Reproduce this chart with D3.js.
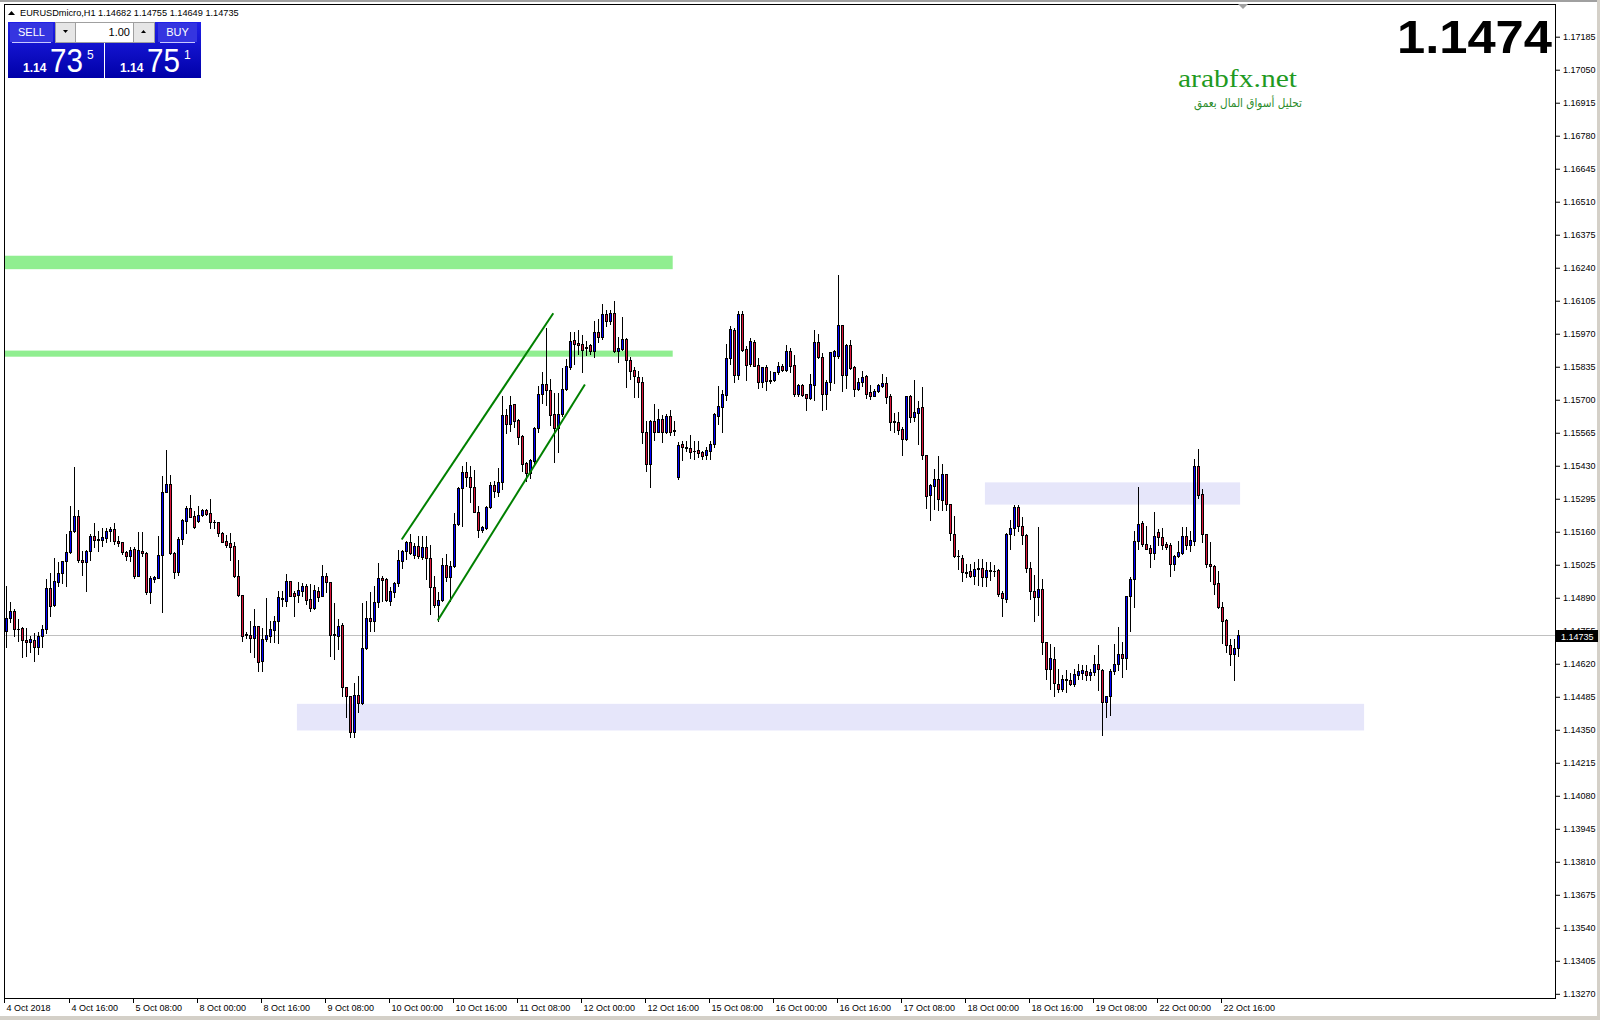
<!DOCTYPE html>
<html><head><meta charset="utf-8">
<script src="https://cdn.jsdelivr.net/npm/d3@7/dist/d3.min.js"></script>
<style>html,body{margin:0;padding:0;background:#fff;overflow:hidden}svg{display:block}</style>
</head><body><svg id="c" width="1600" height="1020"></svg>
<script>
// ---------- DATA (EURUSDmicro, H1) ----------
const symbol = "EURUSDmicro,H1";
const opens = [
1.14753,1.14804,1.14834,1.14760,1.14763,1.14717,1.14706,1.14717,1.14688,1.14730,
1.14760,1.14927,1.14858,1.14954,1.14988,1.15037,1.15074,1.15160,1.15221,1.15044,
1.15035,1.15080,1.15139,1.15125,1.15125,1.15131,1.15160,1.15169,1.15121,1.15115,
1.15074,1.15057,1.15087,1.14978,1.15080,1.15070,1.14912,1.14965,1.14970,1.15063,
1.15319,1.15353,1.15070,1.14995,1.15128,1.15200,1.15255,1.15221,1.15202,1.15225,
1.15247,1.15233,1.15199,1.15198,1.15151,1.15119,1.15112,1.15098,1.14976,1.14899,
1.14736,1.14737,1.14722,1.14771,1.14631,1.14719,1.14733,1.14758,1.14793,1.14883,
1.14876,1.14955,1.14908,1.14899,1.14917,1.14938,1.14883,1.14846,1.14917,1.14897,
1.14976,1.14951,1.14739,1.14733,1.14777,1.14522,1.14485,1.14338,1.14490,1.14458,
1.14681,1.14804,1.14794,1.14872,1.14970,1.14965,1.14876,1.14910,1.14948,1.15040,
1.15078,1.15115,1.15064,1.15098,1.15053,1.15094,1.15049,1.14933,1.14858,1.14879,
1.15022,1.14972,1.15019,1.15188,1.15337,1.15401,1.15381,1.15340,1.15240,1.15165,
1.15173,1.15258,1.15349,1.15322,1.15361,1.15636,1.15598,1.15680,1.15616,1.15549,
1.15438,1.15399,1.15449,1.15582,1.15722,1.15763,1.15738,1.15639,1.15582,1.15639,
1.15742,1.15830,1.15943,1.15930,1.15925,1.15911,1.15922,1.15896,1.15974,1.15956,
1.16049,1.16022,1.16053,1.15899,1.15906,1.15947,1.15862,1.15820,1.15793,1.15770,
1.15568,1.15436,1.15610,1.15568,1.15620,1.15568,1.15633,1.15573,1.15381,1.15517,
1.15504,1.15500,1.15488,1.15492,1.15486,1.15470,1.15488,1.15515,1.15633,1.15670,
1.15719,1.15868,1.15984,1.15801,1.16049,1.15906,1.15845,1.15936,1.15841,1.15770,
1.15831,1.15778,1.15777,1.15811,1.15838,1.15820,1.15896,1.15841,1.15722,1.15759,
1.15722,1.15704,1.15760,1.15933,1.15872,1.15722,1.15772,1.15875,1.15875,1.16004,
1.15801,1.15922,1.15831,1.15740,1.15770,1.15797,1.15729,1.15715,1.15733,1.15756,
1.15767,1.15715,1.15609,1.15606,1.15579,1.15538,1.15712,1.15627,1.15644,1.15668,
1.15470,1.15310,1.15347,1.15374,1.15286,1.15395,1.15271,1.15150,1.15060,1.15050,
1.14994,1.14996,1.14975,1.15005,1.15009,1.14971,1.15001,1.14998,1.15000,1.14908,
1.14881,1.15150,1.15173,1.15259,1.15181,1.15145,1.15009,1.14914,1.14891,1.14925,
1.14709,1.14595,1.14638,1.14536,1.14516,1.14551,1.14553,1.14534,1.14574,1.14581,
1.14588,1.14570,1.14584,1.14618,1.14591,1.14461,1.14486,1.14588,1.14618,1.14659,
1.14641,1.14895,1.14966,1.15120,1.15195,1.15109,1.15092,1.15072,1.15156,1.15136,
1.15106,1.15102,1.15024,1.15058,1.15072,1.15140,1.15105,1.15122,1.15426,1.15313,
1.15150,1.15027,1.15017,1.14948,1.14850,1.14798,1.14696,1.14656,1.14682];
const highs = [
1.14937,1.14869,1.14840,1.14801,1.14770,1.14763,1.14733,1.14744,1.14747,1.14777,
1.14965,1.14989,1.15049,1.15033,1.15040,1.15149,1.15262,1.15421,1.15247,1.15080,
1.15085,1.15147,1.15192,1.15162,1.15172,1.15172,1.15176,1.15192,1.15142,1.15117,
1.15080,1.15094,1.15094,1.15155,1.15155,1.15074,1.14978,1.14978,1.15139,1.15387,
1.15492,1.15390,1.15074,1.15135,1.15210,1.15262,1.15308,1.15244,1.15265,1.15251,
1.15251,1.15292,1.15207,1.15199,1.15155,1.15145,1.15153,1.15115,1.15042,1.14899,
1.14747,1.14794,1.14842,1.14774,1.14763,1.14886,1.14794,1.14812,1.14917,1.14917,
1.14985,1.14958,1.14917,1.14951,1.14947,1.14944,1.14944,1.14940,1.14931,1.15022,
1.14988,1.14951,1.14867,1.14801,1.14785,1.14522,1.14485,1.14538,1.14567,1.14867,
1.14876,1.14910,1.14938,1.15030,1.14976,1.14968,1.14931,1.14954,1.15085,1.15083,
1.15121,1.15149,1.15112,1.15142,1.15142,1.15142,1.15104,1.14978,1.14913,1.15049,
1.15067,1.15040,1.15235,1.15340,1.15428,1.15445,1.15428,1.15412,1.15262,1.15183,
1.15262,1.15360,1.15367,1.15417,1.15715,1.15661,1.15715,1.15680,1.15620,1.15552,
1.15443,1.15456,1.15586,1.15753,1.15813,1.15990,1.15783,1.15726,1.15726,1.15827,
1.15865,1.15977,1.15974,1.15984,1.15963,1.15940,1.15926,1.16018,1.16029,1.16090,
1.16063,1.16063,1.16101,1.15954,1.16035,1.15950,1.15872,1.15831,1.15817,1.15790,
1.15613,1.15617,1.15681,1.15661,1.15636,1.15640,1.15654,1.15613,1.15524,1.15531,
1.15531,1.15554,1.15531,1.15531,1.15490,1.15504,1.15531,1.15643,1.15756,1.15736,
1.15926,1.16001,1.15991,1.16059,1.16059,1.15917,1.15950,1.15944,1.15868,1.15831,
1.15841,1.15815,1.15813,1.15852,1.15845,1.15922,1.15909,1.15882,1.15763,1.15762,
1.15722,1.15804,1.15984,1.15967,1.15888,1.15777,1.15895,1.15903,1.16209,1.16004,
1.15926,1.15944,1.15835,1.15786,1.15817,1.15800,1.15759,1.15740,1.15763,1.15804,
1.15790,1.15722,1.15644,1.15647,1.15586,1.15715,1.15718,1.15777,1.15691,1.15749,
1.15473,1.15354,1.15415,1.15467,1.15436,1.15395,1.15271,1.15224,1.15083,1.15064,
1.15027,1.15027,1.15034,1.15047,1.15045,1.15036,1.15034,1.15020,1.15006,1.14914,
1.15152,1.15204,1.15268,1.15268,1.15218,1.15150,1.15034,1.14982,1.15177,1.14966,
1.14709,1.14700,1.14686,1.14598,1.14573,1.14591,1.14581,1.14598,1.14618,1.14614,
1.14611,1.14598,1.14652,1.14693,1.14595,1.14488,1.14598,1.14700,1.14768,1.14709,
1.14897,1.14972,1.15163,1.15343,1.15200,1.15180,1.15102,1.15238,1.15170,1.15173,
1.15118,1.15113,1.15064,1.15122,1.15177,1.15177,1.15163,1.15456,1.15497,1.15331,
1.15150,1.15118,1.15020,1.14999,1.14870,1.14802,1.14720,1.14718,1.14755];
const lows = [
1.14685,1.14788,1.14733,1.14713,1.14644,1.14648,1.14665,1.14628,1.14658,1.14685,
1.14744,1.14815,1.14856,1.14937,1.14948,1.14937,1.15071,1.15155,1.15035,1.14981,
1.14917,1.15044,1.15094,1.15080,1.15098,1.15115,1.15121,1.15108,1.15101,1.15067,
1.15044,1.15040,1.14967,1.14976,1.15060,1.14903,1.14865,1.14954,1.14969,1.14831,
1.15319,1.15067,1.14969,1.14981,1.15108,1.15153,1.15217,1.15173,1.15196,1.15221,
1.15226,1.15172,1.15173,1.15142,1.15115,1.15094,1.15044,1.14972,1.14897,1.14713,
1.14722,1.14665,1.14645,1.14590,1.14590,1.14713,1.14706,1.14706,1.14702,1.14853,
1.14856,1.14894,1.14815,1.14869,1.14897,1.14863,1.14835,1.14842,1.14876,1.14894,
1.14910,1.14649,1.14638,1.14679,1.14485,1.14399,1.14317,1.14317,1.14422,1.14454,
1.14679,1.14754,1.14754,1.14849,1.14876,1.14876,1.14858,1.14890,1.14938,1.15008,
1.15046,1.15067,1.15049,1.15049,1.15046,1.14965,1.14822,1.14849,1.14794,1.14876,
1.14958,1.14876,1.15013,1.15186,1.15183,1.15346,1.15281,1.15237,1.15138,1.15156,
1.15169,1.15254,1.15299,1.15303,1.15331,1.15561,1.15572,1.15586,1.15515,1.15408,
1.15365,1.15377,1.15429,1.15565,1.15684,1.15677,1.15596,1.15445,1.15486,1.15633,
1.15736,1.15824,1.15845,1.15885,1.15813,1.15881,1.15884,1.15872,1.15936,1.15947,
1.15999,1.16008,1.15892,1.15854,1.15903,1.15752,1.15783,1.15711,1.15711,1.15522,
1.15406,1.15340,1.15535,1.15565,1.15524,1.15562,1.15554,1.15552,1.15374,1.15453,
1.15490,1.15459,1.15456,1.15463,1.15456,1.15456,1.15456,1.15504,1.15599,1.15568,
1.15695,1.15845,1.15772,1.15783,1.15899,1.15777,1.15838,1.15835,1.15745,1.15749,
1.15736,1.15767,1.15775,1.15804,1.15817,1.15817,1.15813,1.15712,1.15712,1.15712,
1.15654,1.15702,1.15695,1.15868,1.15654,1.15661,1.15736,1.15767,1.15868,1.15732,
1.15745,1.15824,1.15712,1.15736,1.15756,1.15704,1.15699,1.15712,1.15729,1.15749,
1.15685,1.15576,1.15565,1.15558,1.15473,1.15535,1.15606,1.15609,1.15518,1.15456,
1.15256,1.15204,1.15249,1.15245,1.15245,1.15245,1.15126,1.15054,1.15004,1.14955,
1.14972,1.14972,1.14945,1.14941,1.14938,1.14938,1.14959,1.14979,1.14897,1.14812,
1.14870,1.15088,1.15143,1.15159,1.15109,1.14993,1.14881,1.14791,1.14816,1.14659,
1.14557,1.14513,1.14486,1.14502,1.14505,1.14502,1.14532,1.14529,1.14557,1.14555,
1.14550,1.14550,1.14570,1.14509,1.14325,1.14400,1.14407,1.14577,1.14591,1.14563,
1.14598,1.14750,1.14850,1.15086,1.15099,1.15086,1.15013,1.15045,1.15102,1.15088,
1.15088,1.14975,1.15000,1.15054,1.15068,1.15088,1.15081,1.15105,1.15295,1.15118,
1.15013,1.14955,1.14904,1.14846,1.14704,1.14666,1.14611,1.14550,1.14649];
const closes = [
1.14804,1.14834,1.14760,1.14762,1.14717,1.14706,1.14719,1.14688,1.14730,1.14760,
1.14927,1.14856,1.14958,1.14988,1.15037,1.15074,1.15160,1.15221,1.15044,1.15035,
1.15080,1.15142,1.15125,1.15128,1.15136,1.15160,1.15169,1.15121,1.15110,1.15074,
1.15057,1.15083,1.14976,1.15083,1.15070,1.14912,1.14969,1.14972,1.15063,1.15319,
1.15353,1.15070,1.14995,1.15128,1.15206,1.15256,1.15220,1.15179,1.15225,1.15247,
1.15230,1.15199,1.15196,1.15151,1.15117,1.15105,1.15097,1.14976,1.14899,1.14733,
1.14738,1.14722,1.14771,1.14627,1.14719,1.14736,1.14760,1.14793,1.14890,1.14886,
1.14955,1.14897,1.14897,1.14920,1.14936,1.14880,1.14846,1.14920,1.14893,1.14976,
1.14951,1.14736,1.14734,1.14771,1.14522,1.14485,1.14338,1.14490,1.14456,1.14681,
1.14804,1.14794,1.14872,1.14968,1.14962,1.14880,1.14914,1.14948,1.15042,1.15078,
1.15115,1.15070,1.15098,1.15060,1.15094,1.15049,1.14933,1.14858,1.14879,1.15022,
1.14972,1.15019,1.15188,1.15337,1.15401,1.15381,1.15342,1.15240,1.15165,1.15176,
1.15258,1.15349,1.15326,1.15363,1.15636,1.15598,1.15677,1.15613,1.15545,1.15436,
1.15399,1.15453,1.15582,1.15722,1.15763,1.15736,1.15636,1.15582,1.15639,1.15742,
1.15835,1.15940,1.15924,1.15920,1.15903,1.15914,1.15896,1.15974,1.15956,1.16049,
1.16022,1.16053,1.15899,1.15910,1.15947,1.15862,1.15817,1.15794,1.15770,1.15568,
1.15436,1.15610,1.15568,1.15620,1.15568,1.15633,1.15568,1.15570,1.15513,1.15504,
1.15500,1.15486,1.15490,1.15481,1.15467,1.15493,1.15518,1.15640,1.15674,1.15722,
1.15869,1.15988,1.15801,1.16049,1.15903,1.15841,1.15940,1.15838,1.15770,1.15830,
1.15774,1.15774,1.15811,1.15838,1.15820,1.15896,1.15838,1.15722,1.15759,1.15719,
1.15704,1.15763,1.15933,1.15872,1.15722,1.15772,1.15892,1.15899,1.16004,1.15801,
1.15922,1.15827,1.15740,1.15770,1.15790,1.15722,1.15715,1.15733,1.15759,1.15767,
1.15708,1.15606,1.15606,1.15576,1.15538,1.15712,1.15627,1.15647,1.15665,1.15470,
1.15306,1.15350,1.15374,1.15290,1.15395,1.15271,1.15152,1.15058,1.15057,1.14993,
1.14991,1.14975,1.15006,1.15009,1.14971,1.15002,1.14998,1.14997,1.14904,1.14887,
1.15150,1.15173,1.15259,1.15181,1.15143,1.15009,1.14914,1.14891,1.14925,1.14709,
1.14595,1.14641,1.14540,1.14516,1.14557,1.14557,1.14534,1.14577,1.14587,1.14591,
1.14570,1.14584,1.14618,1.14595,1.14461,1.14486,1.14588,1.14618,1.14659,1.14641,
1.14895,1.14966,1.15120,1.15190,1.15109,1.15088,1.15072,1.15140,1.15136,1.15105,
1.15095,1.15024,1.15058,1.15075,1.15140,1.15105,1.15125,1.15426,1.15310,1.15147,
1.15024,1.15016,1.14945,1.14850,1.14791,1.14696,1.14656,1.14682,1.14735];

// time axis labels and the bar index they sit on
const timeLabels = ["4 Oct 2018","4 Oct 16:00","5 Oct 08:00","8 Oct 00:00","8 Oct 16:00","9 Oct 08:00",
  "10 Oct 00:00","10 Oct 16:00","11 Oct 08:00","12 Oct 00:00","12 Oct 16:00","15 Oct 08:00",
  "16 Oct 00:00","16 Oct 16:00","17 Oct 08:00","18 Oct 00:00","18 Oct 16:00","19 Oct 08:00",
  "22 Oct 00:00","22 Oct 16:00"];
const timeLabelBars = [0,16,32,48,64,80,96,112,128,144,160,176,192,208,224,240,256,272,288,304];

// price axis tick labels
const priceTicks = [1.17185,1.17050,1.16915,1.16780,1.16645,1.16510,1.16375,1.16240,1.16105,1.15970,
  1.15835,1.15700,1.15565,1.15430,1.15295,1.15160,1.15025,1.14890,1.14755,1.14620,1.14485,1.14350,
  1.14215,1.14080,1.13945,1.13810,1.13675,1.13540,1.13405,1.13270];

// drawn objects: zones (bar from, bar to, price low, price high)
const zoneFrom = [-3, -3, 72.8, 244.8];
const zoneTo   = [166.75, 166.75, 339.6, 308.6];
const zoneLow  = [1.16232, 1.15874, 1.14345, 1.15269];
const zoneHigh = [1.16287, 1.15899, 1.14454, 1.15360];
const zoneKind = ["green","green","lav","lav"];
// channel trend lines (bar1, price1, bar2, price2)
const lineBar1 = [99, 108], linePrice1 = [1.15126, 1.14795];
const lineBar2 = [136.9, 144.8], linePrice2 = [1.16052, 1.15760];

const bid = 1.14735, ask = 1.14751, lot = "1.00", bigPrice = "1.1474";

// ---------- DRAW ----------
const svg = d3.select("#c");
const PL = 4, PT = 4, PR = 1555, PB = 998;
const x = d3.scaleLinear().domain([0, 308]).range([5.7, 1237.7]);
const y = d3.scaleLinear().domain([1.13270, 1.17185]).range([993.3, 36.2]);
const font = "'Liberation Sans', Arial, sans-serif";

svg.append("rect").attr("width",1600).attr("height",1020).attr("fill","#fff");
const defs = svg.append("defs");
defs.append("clipPath").attr("id","plot").append("rect")
  .attr("x",PL+1).attr("y",PT+1).attr("width",PR-PL-1).attr("height",PB-PT-1);
const g = svg.append("g").attr("clip-path","url(#plot)");

// zones
const zoneColor = {green:"#90ee90", lav:"#e6e6fa"};
g.selectAll("rect.zone").data(zoneFrom.map((d,i)=>i)).join("rect")
  .attr("x", i=>x(zoneFrom[i])).attr("width", i=>x(zoneTo[i])-x(zoneFrom[i]))
  .attr("y", i=>y(zoneHigh[i])).attr("height", i=>y(zoneLow[i])-y(zoneHigh[i]))
  .attr("fill", i=>zoneColor[zoneKind[i]]);

// current price line
g.append("line").attr("x1",PL).attr("x2",PR).attr("y1",Math.round(y(bid))+0.5).attr("y2",Math.round(y(bid))+0.5)
  .attr("stroke","#c0c0c0").attr("stroke-width",1);

// candles
const idx = d3.range(closes.length);
const cg = g.append("g");
idx.forEach(i=>{
  const c = Math.round(x(i));
  const yh = Math.round(y(highs[i])), yl = Math.round(y(lows[i]));
  const yo = Math.round(y(opens[i])), yc = Math.round(y(closes[i]));
  cg.append("line").attr("x1",c+0.5).attr("x2",c+0.5).attr("y1",yh).attr("y2",yl+1)
    .attr("stroke","#000").attr("stroke-width",1);
  const top = Math.min(yo,yc), h = Math.abs(yo-yc);
  if (h < 2) {
    cg.append("rect").attr("x",c-1).attr("y",top).attr("width",3).attr("height",Math.max(1,h+1)).attr("fill","#000");
  } else {
    const col = closes[i] > opens[i] ? "#0000ff" : "#dc143c";
    cg.append("rect").attr("x",c-1).attr("y",top).attr("width",3).attr("height",h+1).attr("fill","#000");
    cg.append("rect").attr("x",c).attr("y",top+1).attr("width",1).attr("height",h-1).attr("fill",col);
  }
});

// channel lines
g.selectAll("line.ch").data([0,1]).join("line")
  .attr("x1",i=>x(lineBar1[i])).attr("y1",i=>y(linePrice1[i]))
  .attr("x2",i=>x(lineBar2[i])).attr("y2",i=>y(linePrice2[i]))
  .attr("stroke","#008000").attr("stroke-width",2);

// frame
svg.append("rect").attr("x",0).attr("y",0).attr("width",1600).attr("height",2).attr("fill","#a0a0a0");
svg.append("rect").attr("x",1597).attr("y",0).attr("width",3).attr("height",1020).attr("fill","#d4d0c8");
svg.append("rect").attr("x",0).attr("y",1016).attr("width",1600).attr("height",4).attr("fill","#d4d0c8");
svg.append("line").attr("x1",PL+0.5).attr("x2",PL+0.5).attr("y1",PT).attr("y2",PB).attr("stroke","#000");
svg.append("line").attr("x1",PL).attr("x2",PR).attr("y1",PT+0.5).attr("y2",PT+0.5).attr("stroke","#000");
svg.append("line").attr("x1",PR+0.5).attr("x2",PR+0.5).attr("y1",PT).attr("y2",PB+1).attr("stroke","#000");
svg.append("line").attr("x1",PL).attr("x2",PR+1).attr("y1",PB+0.5).attr("y2",PB+0.5).attr("stroke","#000");

// price axis
const ay = svg.append("g").attr("transform",`translate(${PR+1},0)`)
  .call(d3.axisRight(y).tickValues(priceTicks).tickSize(4).tickSizeOuter(0).tickFormat(d=>d.toFixed(5)));
ay.select(".domain").remove();
ay.selectAll("line").attr("stroke","#000").attr("transform","translate(0,0.5)");
ay.selectAll("text").attr("font-family",font).attr("font-size",9).attr("fill","#000").attr("x",7);

// current price label (covers the tick label beneath it, as in the terminal)
const by = Math.round(y(bid));
svg.append("rect").attr("x",PR+1).attr("y",by-5).attr("width",42).attr("height",12).attr("fill","#000");
svg.append("text").attr("x",PR+6).attr("y",by+4.5).attr("font-family",font).attr("font-size",9)
  .attr("fill","#fff").text(bid.toFixed(5));

// time axis
const ax = svg.append("g").attr("transform",`translate(0,${PB+1})`);
timeLabelBars.forEach((b,k)=>{
  const tx = Math.round(x(b)) + (k===0 ? -1.5 : -0.5);
  ax.append("line").attr("x1",tx).attr("x2",tx).attr("y1",0).attr("y2",4).attr("stroke","#000");
  ax.append("text").attr("x",tx+2).attr("y",11.5).attr("font-family",font).attr("font-size",9)
    .attr("fill","#000").text(timeLabels[k]);
});

// chart shift marker
svg.append("path").attr("d","M1238,4 L1248,4 L1243,9 Z").attr("fill","#a0a0a0");

// header
svg.append("path").attr("d","M8,15 L15,15 L11.5,11 Z").attr("fill","#000");
svg.append("text").attr("x",20).attr("y",16).attr("font-family",font).attr("font-size",9.2).attr("fill","#000")
  .text(`${symbol}  ${opens[308].toFixed(5)} ${highs[308].toFixed(5)} ${lows[308].toFixed(5)} ${closes[308].toFixed(5)}`);

// one-click trading panel
const gr = defs.append("linearGradient").attr("id","pg").attr("x1",0).attr("y1",0).attr("x2",0).attr("y2",1);
gr.append("stop").attr("offset","0%").attr("stop-color","#2020e8");
gr.append("stop").attr("offset","100%").attr("stop-color","#0000a8");
const panel = svg.append("g");
function side(px, label, lx, lw, big, sup) {
  panel.append("rect").attr("x",px).attr("y",22).attr("width",96).attr("height",56).attr("fill","url(#pg)");
  panel.append("rect").attr("x",lx).attr("y",23).attr("width",lw).attr("height",19).attr("fill","#3535e0");
  panel.append("line").attr("x1",lx+2).attr("x2",lx+lw-2).attr("y1",42.5).attr("y2",42.5).attr("stroke","#c8c8ff");
  panel.append("text").attr("x",lx+lw/2).attr("y",36).attr("text-anchor","middle").attr("font-family",font)
    .attr("font-size",11).attr("fill","#fff").text(label);
  panel.append("text").attr("x",px+15).attr("y",72).attr("font-family",font).attr("font-size",12)
    .attr("font-weight","bold").attr("fill","#fff").text(big.slice(0,4));
  panel.append("text").attr("x",px+42).attr("y",72).attr("font-family",font).attr("font-size",33)
    .attr("fill","#fff").attr("textLength",33).attr("lengthAdjust","spacingAndGlyphs").text(big.slice(4,6));
  panel.append("text").attr("x",px+79).attr("y",59).attr("font-family",font).attr("font-size",12)
    .attr("fill","#fff").text(sup);
}
side(8, "SELL", 10, 43, bid.toFixed(5), bid.toFixed(5).slice(6));
side(105, "BUY", 158, 39, ask.toFixed(5), ask.toFixed(5).slice(6));
panel.append("rect").attr("x",55.5).attr("y",22.5).attr("width",99).attr("height",20).attr("fill","#fff").attr("stroke","#a0a0a0");
panel.append("rect").attr("x",56).attr("y",23).attr("width",19).attr("height",19).attr("fill","#e6e6e6");
panel.append("rect").attr("x",134).attr("y",23).attr("width",20).attr("height",19).attr("fill","#e6e6e6");
panel.append("line").attr("x1",75.5).attr("x2",75.5).attr("y1",23).attr("y2",42).attr("stroke","#a0a0a0");
panel.append("line").attr("x1",133.5).attr("x2",133.5).attr("y1",23).attr("y2",42).attr("stroke","#a0a0a0");
panel.append("path").attr("d","M63,30 L68,30 L65.5,33 Z").attr("fill","#000");
panel.append("path").attr("d","M141,33 L146,33 L143.5,30 Z").attr("fill","#000");
panel.append("text").attr("x",130).attr("y",36).attr("text-anchor","end").attr("font-family",font)
  .attr("font-size",11).attr("fill","#000").text(lot);

// big price
svg.append("text").attr("x",1552).attr("y",53).attr("text-anchor","end").attr("font-family",font)
  .attr("font-weight","bold").attr("font-size",47).attr("fill","#000")
  .attr("textLength",155).attr("lengthAdjust","spacingAndGlyphs").text(bigPrice);

// watermark
svg.append("text").attr("x",1178).attr("y",87).attr("font-family","'Liberation Serif', 'Times New Roman', serif")
  .attr("font-size",26).attr("fill","#1f9a1f").attr("textLength",119).attr("lengthAdjust","spacingAndGlyphs")
  .text("arabfx.net");
svg.append("text").attr("x",1194).attr("y",107).attr("text-anchor","start")
  .attr("font-family","'DejaVu Sans', 'Noto Sans', sans-serif").attr("font-size",12).attr("fill","#2c8c2c")
  .attr("textLength",108).attr("lengthAdjust","spacingAndGlyphs")
  .text("تحليل أسواق المال بعمق");
</script></body></html>
